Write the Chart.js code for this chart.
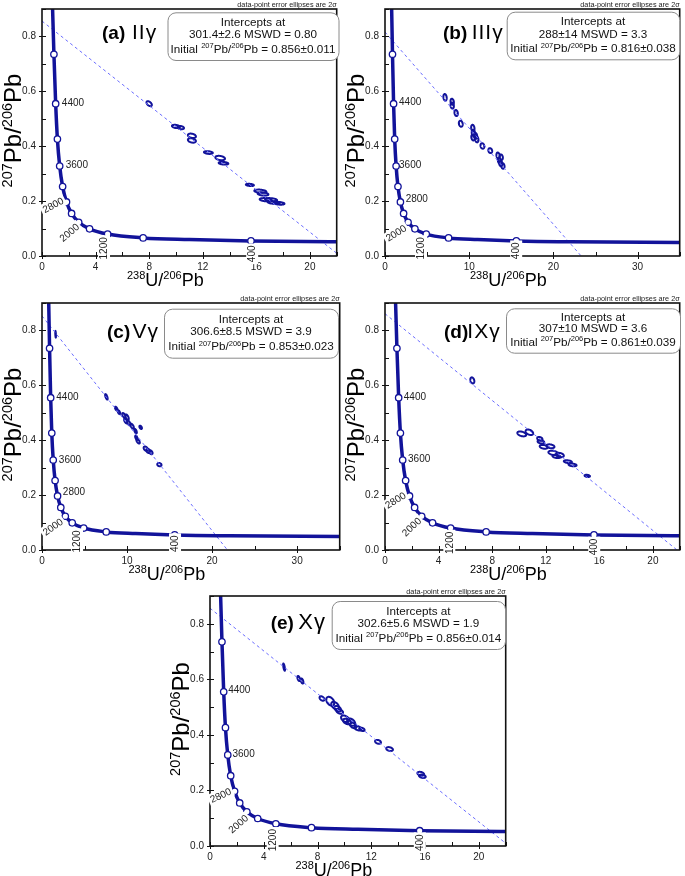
<!DOCTYPE html>
<html>
<head>
<meta charset="utf-8">
<script src="https://cdn.jsdelivr.net/npm/chart.js@4.4.1/dist/chart.umd.min.js"></script>
<style>
html, body { margin: 0; padding: 0; background: #fff; width: 685px; height: 876px; overflow: hidden; position: relative; }
canvas { position: absolute; }
</style>
</head>
<body>
<script>
// ── Data (238U/206Pb vs 207Pb/206Pb) ────────────────────────────────────────
const FONT  = "'Liberation Sans', Arial, sans-serif";
const BLUE  = "#12139a";
const DASH  = "#6b6dff";

// concordia curve
const concX = [0.74, 0.79, 0.89, 1.02, 1.15, 1.32, 1.54, 1.83, 2.21, 2.74, 3.55, 4.90, 7.55, 11.0, 15.6, 22.0, 35.0];
const concY = [1.00, 0.90, 0.735, 0.555, 0.426, 0.328, 0.253, 0.197, 0.155, 0.123, 0.099, 0.080, 0.066, 0.060, 0.055, 0.052, 0.0495];

// age markers on concordia (400 … 4800 Ma)
const ageX = [15.6, 7.55, 4.90, 3.55, 2.74, 2.21, 1.83, 1.54, 1.32, 1.15, 1.02, 0.89];
const ageY = [0.055, 0.066, 0.080, 0.099, 0.123, 0.155, 0.197, 0.253, 0.328, 0.426, 0.555, 0.735];

// discordia lines: [x0, x1], [y0, y1]
const discAX = [0, 22.0], discAY = [0.856, 0.010];
const discBX = [0, 23.3], discBY = [0.816, 0.000];
const discCX = [0, 21.8], discCY = [0.853, 0.000];
const discDX = [0, 21.8], discDY = [0.861, 0.000];
const discEX = [0, 22.0], discEY = [0.856, 0.010];

// error ellipses: [x, y, errX, errY, rho]
const ellA = [
    [8.0, 0.555, 0.20, 0.009, -0.5],
    [10.0, 0.472, 0.30, 0.006, -0.3], [10.35, 0.468, 0.25, 0.006, -0.3],
    [11.19, 0.438, 0.30, 0.008, -0.3], [11.19, 0.421, 0.30, 0.008, -0.3],
    [12.42, 0.377, 0.33, 0.005, -0.3], [13.3, 0.357, 0.36, 0.008, -0.3], [13.55, 0.338, 0.36, 0.005, -0.3],
    [15.52, 0.259, 0.30, 0.004, -0.3],
    [16.3, 0.236, 0.45, 0.006, -0.3], [16.5, 0.226, 0.40, 0.006, -0.3], [16.7, 0.205, 0.45, 0.006, -0.3],
    [17.1, 0.205, 0.45, 0.006, -0.3], [17.3, 0.195, 0.45, 0.005, -0.3], [17.7, 0.192, 0.40, 0.005, -0.3],
];
const ellB = [
    [7.13, 0.578, 0.20, 0.012, -0.2], [7.98, 0.562, 0.20, 0.011, -0.2], [7.98, 0.548, 0.20, 0.011, -0.2],
    [8.45, 0.521, 0.20, 0.011, -0.2], [9.0, 0.482, 0.23, 0.011, -0.2],
    [10.43, 0.466, 0.20, 0.012, -0.2], [10.5, 0.448, 0.20, 0.012, -0.2], [10.45, 0.432, 0.20, 0.011, -0.2],
    [10.75, 0.438, 0.20, 0.011, -0.2], [10.9, 0.425, 0.20, 0.011, -0.2],
    [11.57, 0.401, 0.23, 0.010, -0.2], [12.5, 0.384, 0.23, 0.009, -0.2],
    [13.43, 0.366, 0.20, 0.011, -0.2], [13.8, 0.360, 0.20, 0.010, -0.2], [13.6, 0.347, 0.20, 0.010, -0.2],
    [13.75, 0.337, 0.20, 0.010, -0.2], [14.0, 0.328, 0.20, 0.010, -0.2],
];
const ellC = [
    [1.6, 0.786, 0.04, 0.012, -0.5], [7.57, 0.558, 0.15, 0.010, -0.7],
    [8.73, 0.515, 0.15, 0.007, -0.6], [9.05, 0.502, 0.15, 0.007, -0.6], [9.63, 0.490, 0.20, 0.009, -0.6],
    [10.0, 0.484, 0.20, 0.010, -0.6], [9.85, 0.470, 0.20, 0.009, -0.6], [10.2, 0.463, 0.20, 0.009, -0.6],
    [10.6, 0.451, 0.20, 0.009, -0.6], [11.0, 0.433, 0.15, 0.008, -0.6], [11.6, 0.447, 0.15, 0.006, -0.5],
    [11.1, 0.409, 0.15, 0.008, -0.6], [11.3, 0.396, 0.20, 0.008, -0.6],
    [12.2, 0.369, 0.25, 0.008, -0.4], [12.5, 0.361, 0.25, 0.008, -0.4], [12.8, 0.356, 0.20, 0.007, -0.4],
    [13.8, 0.311, 0.25, 0.006, -0.2],
];
const ellD = [
    [6.52, 0.618, 0.15, 0.011, -0.3],
    [10.21, 0.423, 0.33, 0.009, -0.4], [10.78, 0.429, 0.28, 0.010, -0.4],
    [11.56, 0.405, 0.20, 0.007, -0.3], [11.64, 0.394, 0.25, 0.006, -0.3], [11.85, 0.376, 0.30, 0.007, -0.3],
    [12.35, 0.378, 0.30, 0.007, -0.3], [12.55, 0.354, 0.35, 0.008, -0.3], [13.05, 0.346, 0.30, 0.008, -0.3],
    [12.8, 0.341, 0.30, 0.006, -0.3], [13.65, 0.322, 0.30, 0.005, -0.3], [14.0, 0.310, 0.30, 0.005, -0.3],
    [15.1, 0.270, 0.20, 0.004, -0.3],
];
const ellE = [
    [5.51, 0.644, 0.07, 0.013, -0.7], [6.6, 0.603, 0.10, 0.009, -0.5], [6.85, 0.594, 0.10, 0.009, -0.5],
    [8.33, 0.531, 0.18, 0.008, -0.4], [8.95, 0.521, 0.30, 0.016, -0.4], [9.3, 0.506, 0.28, 0.013, -0.4],
    [9.5, 0.494, 0.25, 0.010, -0.4], [9.65, 0.484, 0.25, 0.008, -0.4], [10.05, 0.458, 0.30, 0.012, -0.4],
    [10.2, 0.448, 0.30, 0.010, -0.4], [10.5, 0.446, 0.30, 0.013, -0.4], [10.66, 0.434, 0.25, 0.010, -0.4],
    [11.0, 0.424, 0.25, 0.008, -0.4], [11.3, 0.420, 0.20, 0.006, -0.4],
    [12.5, 0.375, 0.22, 0.007, -0.3], [13.36, 0.349, 0.25, 0.007, -0.3],
    [15.68, 0.260, 0.25, 0.007, -0.3], [15.8, 0.251, 0.25, 0.006, -0.3],
];

// intercept box texts
const interceptTxt = ["301.4±2.6 MSWD = 0.80", "288±14 MSWD = 3.3", "306.6±8.5 MSWD = 3.9", "307±10 MSWD = 3.6", "302.6±5.6 MSWD = 1.9"];
const initialTxt   = ["0.856±0.011", "0.816±0.038", "0.853±0.023", "0.861±0.039", "0.856±0.014"];
const panelTags    = ["(a)", "(b)", "(c)", "(d)", "(e)"];
const panelNames   = ["IIγ", "IIIγ", "Vγ", "IXγ", "Xγ"];

// ── Layout per panel (plot area in page px, label anchors in data units) ─────
const panels = [
    { left: 42, top: 9, w: 298, h: 247, xMax: 22, xStep: 4, xMinor: 2, ell: ellA, dx: discAX, dy: discAY,
      tag: [60, 90, 30.3, 21], box: [125.5, 3.3, 171, 47.7],
      labels: [["4400", 1.48, 0.558, 0], ["3600", 1.77, 0.330, 0], ["2800", 0.83, 0.185, -27], ["2000", 2.04, 0.085, -40], ["1200", 4.63, 0.028, -90], ["400", 15.69, 0.008, -90]] },
    { left: 385, top: 9, w: 298, h: 247, xMax: 35, xStep: 10, xMinor: 5, ell: ellB, dx: discBX, dy: discBY,
      tag: [58, 86.7, 30.3, 21], box: [121.7, 2.7, 172.6, 47.6],
      labels: [["4400", 1.67, 0.559, 0], ["3600", 1.67, 0.329, 0], ["2800", 2.45, 0.208, 0], ["2000", 1.32, 0.083, -32], ["1200", 4.28, 0.028, -90], ["400", 15.58, 0.019, -90]] },
    { left: 42, top: 303, w: 301, h: 247, xMax: 35, xStep: 10, xMinor: 5, ell: ellC, dx: discCX, dy: discCY,
      tag: [65, 90.4, 35, 21], box: [122, 5.7, 174, 49],
      labels: [["4400", 1.68, 0.555, 0], ["3600", 1.98, 0.327, 0], ["2800", 2.45, 0.210, 0], ["2000", 1.28, 0.084, -35], ["1200", 4.12, 0.031, -90], ["400", 15.64, 0.023, -90]] },
    { left: 385, top: 303, w: 298, h: 247, xMax: 22, xStep: 4, xMinor: 2, ell: ellD, dx: discDX, dy: discDY,
      tag: [59, 82.3, 35, 21], box: [121, 5.3, 174, 44.4],
      labels: [["4400", 1.40, 0.557, 0], ["3600", 1.72, 0.330, 0], ["2800", 0.79, 0.181, -32], ["2000", 1.99, 0.084, -43], ["1200", 4.80, 0.026, -90], ["400", 15.62, 0.011, -90]] },
    { left: 210, top: 596, w: 299, h: 250, xMax: 22, xStep: 4, xMinor: 2, ell: ellE, dx: discEX, dy: discEY,
      tag: [60.7, 88.3, 33.3, 22], box: [121.7, 5, 173.3, 48],
      labels: [["4400", 1.35, 0.559, 0], ["3600", 1.67, 0.330, 0], ["2800", 0.79, 0.182, -25], ["2000", 2.11, 0.079, -41], ["1200", 4.66, 0.021, -90], ["400", 15.61, 0.012, -90]] },
];

const PAD_T = 14, PAD_R = 2, Y_W = 42, X_H = 40;

// ── Text helper: runs of [text, size, rise, bold] ────────────────────────────
function drawRuns(ctx, runs, x, y, align) {
    const fontOf = (r) => (r[3] ? "bold " : "") + r[1] + "px " + FONT;
    let w = 0;
    runs.forEach((r) => { ctx.font = fontOf(r); w += ctx.measureText(r[0]).width; });
    let cx = align === "center" ? x - w / 2 : align === "right" ? x - w : x;
    ctx.textAlign = "left";
    ctx.textBaseline = "alphabetic";
    runs.forEach((r) => {
        ctx.font = fontOf(r);
        ctx.fillText(r[0], cx, y - (r[2] || 0));
        cx += ctx.measureText(r[0]).width;
    });
}

function panelPlugin(p, i) {
    return {
        id: "panel" + i,
        beforeDatasetsDraw(chart) {
            const { ctx, chartArea: a, scales: { x, y } } = chart;
            ctx.save();
            ctx.beginPath();
            ctx.rect(a.left, a.top, a.right - a.left, a.bottom - a.top);
            ctx.clip();
            ctx.strokeStyle = BLUE;
            ctx.lineWidth = 2;
            p.ell.forEach(([cx, cy, ex, ey, rho]) => {
                const s = Math.sqrt(1 - rho * rho);
                ctx.beginPath();
                for (let k = 0; k <= 60; k++) {
                    const t = (k / 60) * 2 * Math.PI;
                    const px = x.getPixelForValue(cx + ex * Math.cos(t));
                    const py = y.getPixelForValue(cy + ey * (rho * Math.cos(t) + s * Math.sin(t)));
                    k ? ctx.lineTo(px, py) : ctx.moveTo(px, py);
                }
                ctx.closePath();
                ctx.stroke();
            });
            ctx.restore();
        },
        afterDraw(chart) {
            const { ctx, chartArea: a, scales: { x, y } } = chart;
            ctx.save();

            // frame + ticks
            ctx.strokeStyle = "#111";
            ctx.lineWidth = 1.6;
            ctx.strokeRect(a.left, a.top, a.right - a.left, a.bottom - a.top);
            ctx.lineWidth = 1;
            ctx.beginPath();
            for (let v = 0; v <= p.xMax + 1e-9; v += p.xMinor) {
                const px = Math.round(x.getPixelForValue(v)) + 0.5;
                const major = Math.abs(v / p.xStep - Math.round(v / p.xStep)) < 1e-6;
                ctx.moveTo(px, a.bottom + (major ? 3 : 0));
                ctx.lineTo(px, a.bottom - 4);
            }
            for (let k = 0; k <= 9; k++) {
                const py = Math.round(y.getPixelForValue(k / 10)) + 0.5;
                ctx.moveTo(a.left - (k % 2 === 0 ? 3 : 0), py);
                ctx.lineTo(a.left + 4, py);
            }
            ctx.stroke();

            // age labels
            ctx.font = "10px " + FONT;
            p.labels.forEach(([t, lx, ly, ang]) => {
                const px = x.getPixelForValue(lx), py = y.getPixelForValue(ly);
                ctx.save();
                ctx.translate(px, py);
                ctx.textBaseline = "middle";
                if (ang === 0) {
                    ctx.textAlign = "left";
                    ctx.fillStyle = "#222";
                    ctx.fillText(t, 0, 0);
                } else {
                    ctx.rotate((ang * Math.PI) / 180);
                    const w = ctx.measureText(t).width;
                    ctx.fillStyle = "#fff";
                    ctx.fillRect(-w / 2 - 2, -6, w + 4, 12);
                    ctx.textAlign = "center";
                    ctx.fillStyle = "#222";
                    ctx.fillText(t, 0, 0.5);
                }
                ctx.restore();
            });

            // intercept box
            const [bx, by, bw, bh] = p.box;
            const X0 = a.left + bx, Y0 = a.top + by;
            ctx.fillStyle = "#fff";
            ctx.strokeStyle = "#8a8a8a";
            ctx.lineWidth = 1;
            ctx.beginPath();
            ctx.roundRect(X0 + 0.5, Y0 + 0.5, bw, bh, 8);
            ctx.fill();
            ctx.stroke();
            ctx.fillStyle = "#111";
            const mx = X0 + bw / 2;
            drawRuns(ctx, [["Intercepts at", 11.7]], mx, Y0 + bh * 0.287, "center");
            drawRuns(ctx, [[interceptTxt[i], 11.7]], mx, Y0 + bh * 0.545, "center");
            drawRuns(ctx, [["Initial ", 11.7], ["207", 7.5, 4.5], ["Pb/", 11.7], ["206", 7.5, 4.5], ["Pb = " + initialTxt[i], 11.7]], mx, Y0 + bh * 0.847, "center");

            // panel title
            ctx.fillStyle = "#000";
            drawRuns(ctx, [[panelTags[i], 19, 0, true]], a.left + p.tag[0], a.top + p.tag[2], "left");
            ctx.letterSpacing = "1px";
            drawRuns(ctx, [[panelNames[i], p.tag[3]]], a.left + p.tag[1], a.top + p.tag[2], "left");
            ctx.letterSpacing = "0px";

            // note
            ctx.fillStyle = "#222";
            drawRuns(ctx, [["data-point error ellipses are 2σ", 7.3]], a.right, a.top - 2.5, "right");

            // axis titles
            ctx.fillStyle = "#000";
            drawRuns(ctx, [["238", 11, 7], ["U/", 18], ["206", 11, 7], ["Pb", 18]], (a.left + a.right) / 2 - 24, a.bottom + 30, "center");
            ctx.save();
            ctx.translate(a.left - 21, (a.top + a.bottom) / 2 - 2);
            ctx.rotate(-Math.PI / 2);
            drawRuns(ctx, [["207", 14.5, 9], ["Pb/", 24], ["206", 14.5, 9], ["Pb", 24]], 0, 0, "center");
            ctx.restore();

            ctx.restore();
        },
    };
}

// ── Build the five charts ────────────────────────────────────────────────────
panels.forEach((p, i) => {
    const W = p.w + Y_W + PAD_R, H = p.h + PAD_T + X_H;
    const canvas = document.createElement("canvas");
    canvas.width = W;
    canvas.height = H;
    canvas.style.left = p.left - Y_W + "px";
    canvas.style.top = p.top - PAD_T + "px";
    document.body.appendChild(canvas);

    new Chart(canvas.getContext("2d"), {
        type: "scatter",
        data: {
            datasets: [
                { data: ageX.map((v, k) => ({ x: v, y: ageY[k] })), showLine: false, pointRadius: 3.2, pointBackgroundColor: "#fff", pointBorderColor: BLUE, pointBorderWidth: 1.3, order: 0 },
                { data: concX.map((v, k) => ({ x: v, y: concY[k] })), showLine: true, borderColor: BLUE, borderWidth: 3.5, pointRadius: 0, cubicInterpolationMode: "monotone", clip: 0, order: 1 },
                { data: p.dx.map((v, k) => ({ x: v, y: p.dy[k] })), showLine: true, borderColor: DASH, borderWidth: 1, borderDash: [3, 3], pointRadius: 0, clip: 0, order: 2 },
            ],
        },
        options: {
            responsive: false,
            animation: false,
            events: [],
            layout: { padding: { left: 0, top: PAD_T, right: PAD_R, bottom: 0 } },
            plugins: { legend: { display: false }, tooltip: { enabled: false } },
            scales: {
                x: {
                    type: "linear", min: 0, max: p.xMax,
                    grid: { display: false, drawTicks: false }, border: { display: false },
                    ticks: { stepSize: p.xStep, includeBounds: false, autoSkip: false, maxRotation: 0, padding: 5, color: "#222", font: { family: FONT, size: 10 } },
                    afterFit: (s) => { s.height = X_H; },
                },
                y: {
                    type: "linear", min: 0, max: 0.9,
                    grid: { display: false, drawTicks: false }, border: { display: false },
                    ticks: { stepSize: 0.2, includeBounds: false, padding: 6, color: "#222", font: { family: FONT, size: 10 }, callback: (v) => v.toFixed(1) },
                    afterFit: (s) => { s.width = Y_W; },
                },
            },
        },
        plugins: [panelPlugin(p, i)],
    });
});
</script>
</body>
</html>
